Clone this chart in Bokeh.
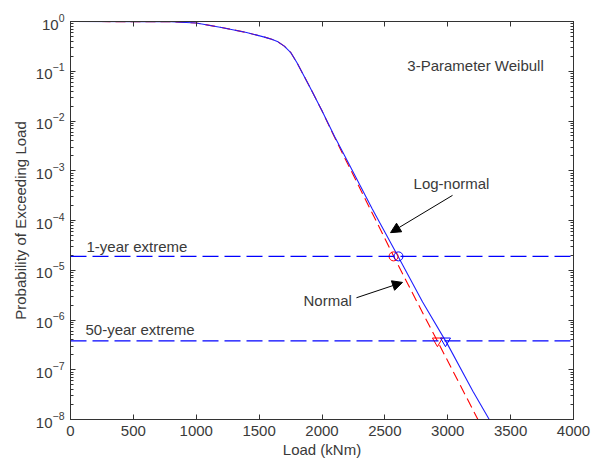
from bokeh.plotting import figure
from bokeh.models import (Range1d, FixedTicker, LinearAxis, LogAxis, Span, Arrow,
                          NormalHead, Label, ColumnDataSource)
from bokeh.embed import file_html
from bokeh.resources import INLINE

# ---- data ----
load_common = [0, 600, 800, 1000, 1200, 1400, 1550, 1600, 1650, 1700, 1750, 1800, 1900, 2000]
p_common = [0.997, 0.996, 0.99, 0.93, 0.76, 0.60, 0.48, 0.44, 0.39, 0.32, 0.24, 0.15, 0.050, 0.016]

load_lognormal = [2100, 2200, 2400, 2600, 2800, 3000, 3200, 3330]
p_lognormal = [4.9e-3, 1.6e-3, 1.7e-4, 2.0e-5, 2.3e-6, 3.2e-7, 3.7e-8, 1.0e-8]

load_normal = [2100, 2200, 2400, 2600, 2800, 3000, 3240]
p_normal = [4.7e-3, 1.45e-3, 1.4e-4, 1.35e-5, 1.4e-6, 1.5e-7, 1.0e-8]

p_1year = 1.9e-5
p_50year = 3.8e-7
load_1year = {"lognormal": 2608, "normal": 2569}
load_50year = {"lognormal": 2982, "normal": 2918}

x_ticks = [0, 500, 1000, 1500, 2000, 2500, 3000, 3500, 4000]
y_decades = list(range(-8, 1))

TEXT = "#3a3a3a"
AX = "#333333"
FONT = "Liberation Sans"

p = figure(width=595, height=464, y_axis_type="log", output_backend="svg",
           toolbar_location=None, x_range=Range1d(0, 4000), y_range=Range1d(1e-8, 1),
           min_border_left=70, min_border_right=22, min_border_top=21, min_border_bottom=45)
p.xgrid.visible = False
p.ygrid.visible = False
p.outline_line_color = AX
p.background_fill_color = "white"
p.border_fill_color = "white"

yt = [10.0 ** d for d in y_decades]
ymin = [k * 10.0 ** d for d in y_decades[:-1] for k in range(2, 10)]
yticker = FixedTicker(ticks=yt, minor_ticks=ymin)
xticker = FixedTicker(ticks=x_ticks)

def style(ax):
    ax.axis_line_color = AX
    ax.major_tick_line_color = AX
    ax.minor_tick_line_color = AX
    ax.major_tick_in = 5
    ax.major_tick_out = 0
    ax.minor_tick_in = 3
    ax.minor_tick_out = 0
    ax.major_label_text_font = FONT
    ax.major_label_text_color = TEXT
    ax.major_label_text_font_size = "15px"
    ax.major_label_standoff = 6
    ax.axis_label_text_font = FONT
    ax.axis_label_text_font_style = "normal"
    ax.axis_label_text_color = TEXT
    ax.axis_label_text_font_size = "15px"

p.xaxis.ticker = xticker
p.yaxis.ticker = yticker
p.xaxis.axis_label = "Load (kNm)"
p.yaxis.axis_label = "Probability of Exceeding Load"
p.xaxis.axis_label_standoff = 2
p.yaxis.axis_label_standoff = 4
style(p.xaxis[0])
style(p.yaxis[0])
p.xaxis.minor_tick_line_color = None

top = LinearAxis(ticker=xticker)
style(top)
top.minor_tick_line_color = None
top.major_label_text_font_size = "1px"
top.major_label_text_alpha = 0
top.major_label_standoff = 0
p.add_layout(top, "above")
right = LogAxis(ticker=yticker)
style(right)
right.major_label_text_font_size = "1px"
right.major_label_text_alpha = 0
right.major_label_standoff = 0
p.add_layout(right, "right")

# horizontal reference lines
for val in (p_1year, p_50year):
    p.add_layout(Span(location=val, dimension="width", line_color="#0000ff",
                      line_dash="16 6", line_width=1.2))

# curves
red_src = ColumnDataSource(dict(x=load_common + load_normal, y=p_common + p_normal))
blue_src = ColumnDataSource(dict(x=load_common + load_lognormal, y=p_common + p_lognormal))
p.line("x", "y", source=red_src, line_color="#ff0000", line_dash="10 5", line_width=1.1)
p.line("x", "y", source=blue_src, line_color="#2020ff", line_width=1.1)

# markers
p.scatter([load_1year["normal"]], [p_1year], marker="circle", size=9, fill_color=None,
          line_color="#ff0000")
p.scatter([load_50year["normal"]], [p_50year], marker="inverted_triangle", size=10,
          fill_color=None, line_color="#ff0000")
p.scatter([load_1year["lognormal"]], [p_1year], marker="circle", size=9, fill_color=None,
          line_color="#0000ff")
p.scatter([load_50year["lognormal"]], [p_50year], marker="inverted_triangle", size=10,
          fill_color=None, line_color="#0000ff")

# arrows
p.add_layout(Arrow(x_start=3038, y_start=3.2e-4, x_end=2545, y_end=5.7e-5,
                   line_color="black", line_width=1,
                   end=NormalHead(size=10, fill_color="black", line_color="black")))
p.add_layout(Arrow(x_start=2274, y_start=2.8e-6, x_end=2640, y_end=5.7e-6,
                   line_color="black", line_width=1,
                   end=NormalHead(size=10, fill_color="black", line_color="black")))

# labels
def lab(x, y, t, align="left"):
    p.add_layout(Label(x=x, y=y, text=t, text_font=FONT, text_font_size="15px",
                       text_color=TEXT, text_align=align, text_baseline="middle"))

lab(3221, 0.13, "3-Parameter Weibull", "center")
lab(2728, 5.5e-4, "Log-normal")
lab(127, 3.0e-5, "1-year extreme")
lab(119, 6.4e-7, "50-year extreme")
lab(1853, 2.5e-6, "Normal")

open("out.html", "w").write(file_html(p, INLINE))
